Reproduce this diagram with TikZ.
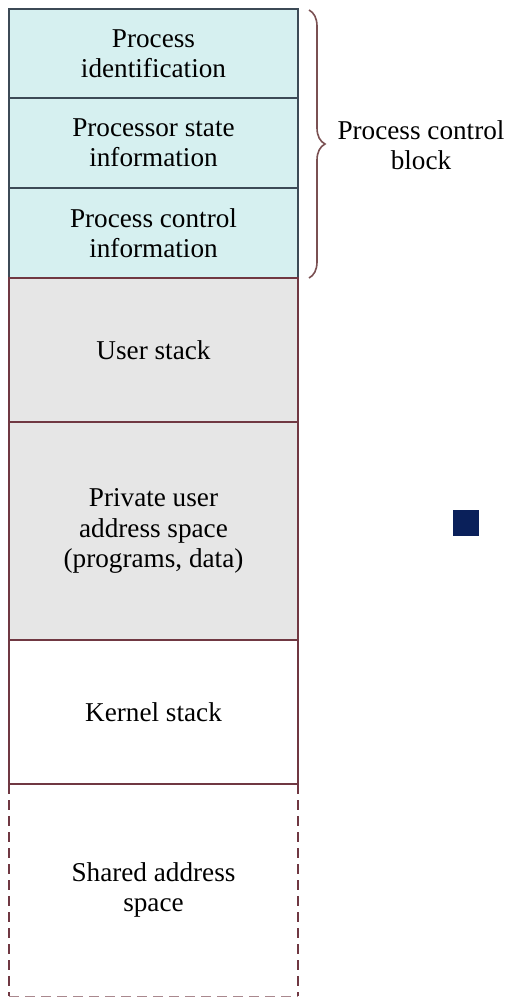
\documentclass[tikz,border=0pt]{standalone}
\usepackage{fontspec}
\setmainfont{Liberation Serif}
\usetikzlibrary{positioning,decorations.pathreplacing}
\definecolor{pcbcyan}{RGB}{214,240,240}
\definecolor{stackgray}{RGB}{230,230,230}
\definecolor{pcbline}{RGB}{60,74,86}
\definecolor{memline}{RGB}{112,56,66}
\definecolor{bracebrown}{RGB}{122,80,82}
\definecolor{markblue}{RGB}{10,32,90}

\tikzset{
    seg/.style={rectangle, minimum width=144.5pt, inner sep=0pt, outer sep=0pt,
        align=center, line width=0.7pt, font=\rmfamily\fontsize{13.6}{15.2}\selectfont},
    pcbseg/.style={seg, draw=pcbline, fill=pcbcyan, minimum height=45pt},
    grayseg/.style={seg, draw=memline, fill=stackgray},
    whiteseg/.style={seg, draw=memline, fill=white}
}

\begin{document}
\begin{tikzpicture}[x=0.5pt, y=-0.5pt]
    \useasboundingbox (0,0) rectangle (508,998);

    % Process control block
    \node[pcbseg, anchor=north west, minimum height=44.5pt] (pid) at (9,9) {Process\\identification};
    \node[pcbseg, below=0pt of pid] (pstate) {Processor state\\information};
    \node[pcbseg, below=0pt of pstate] (pctrl) {Process control\\information};

    % User part
    \node[grayseg, below=0pt of pctrl, minimum height=72pt] (ustack) {User stack};
    \node[grayseg, below=0pt of ustack, minimum height=109pt] (priv) {Private user\\address space\\(programs, data)};

    % Kernel part
    \node[whiteseg, below=0pt of priv, minimum height=72pt] (kstack) {Kernel stack};
    \node[seg, below=0pt of kstack, minimum height=106pt] (shared) {Shared address\\space};
    \draw[memline, line width=0.7pt, dash pattern=on 5pt off 3pt]
        (shared.north west) -- (shared.south west);
    \draw[memline, line width=0.7pt, dash pattern=on 5pt off 3pt]
        (shared.north east) -- (shared.south east);
    \draw[memline!60, line width=0.5pt, dash pattern=on 5pt off 3pt]
        (shared.south west) -- (shared.south east);
    \draw[memline, line width=0.7pt] (kstack.south west) -- (kstack.south east);

    % Brace
    \coordinate (btop) at (309,10);
    \coordinate (bbot) at (309,278);
    \draw[bracebrown, line width=0.8pt, decorate, decoration={brace, amplitude=8pt}] (btop) -- (bbot);
    \node[align=center, font=\rmfamily\fontsize{13.6}{15.2}\selectfont] (pcblabel) at (421,145) {Process control\\block};

    % Marker
    \fill[markblue] (453,510) rectangle (479,536);
\end{tikzpicture}
\end{document}
